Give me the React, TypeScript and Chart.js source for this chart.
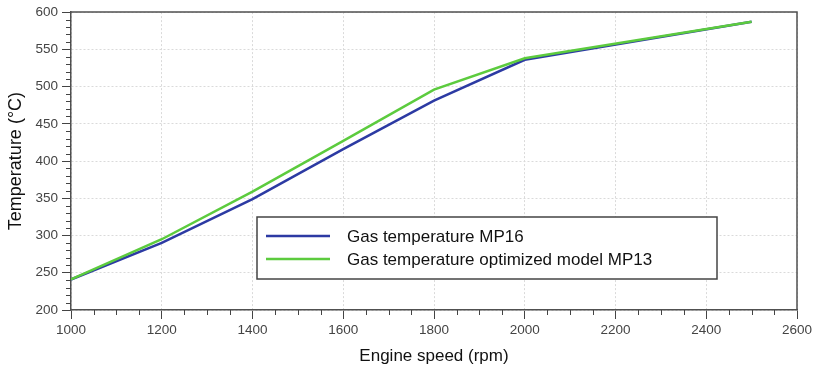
import React, { useEffect, useRef } from "react";
import { Chart, registerables } from "chart.js";

Chart.register(...registerables);

const speeds = [1000, 1200, 1400, 1600, 1800, 2000, 2500];
const tempMP16 = [241, 290, 349, 416, 481, 536, 587];
const tempMP13 = [241, 295, 359, 427, 496, 538, 587];
const seriesLabels = ["Gas temperature MP16", "Gas temperature optimized model MP13"];
const seriesColors = ["#2c3aa3", "#5ccb3e"];
const xTitle = "Engine speed (rpm)";
const yTitle = "Temperature (\u00B0C)";

const FONT = "'Liberation Sans', Arial, sans-serif";

const framePlugin = {
  id: "frameAndMinorTicks",
  afterDraw(chart: any) {
    const { ctx, chartArea } = chart;
    const xs = chart.scales.x;
    const ys = chart.scales.y;
    ctx.save();
    ctx.strokeStyle = "#505050";
    ctx.lineWidth = 1.5;
    ctx.beginPath();
    ctx.moveTo(chartArea.left, chartArea.top);
    ctx.lineTo(chartArea.right, chartArea.top);
    ctx.lineTo(chartArea.right, chartArea.bottom);
    ctx.stroke();
    // minor ticks
    ctx.strokeStyle = "#444";
    ctx.lineWidth = 1;
    ctx.beginPath();
    for (let v = xs.min; v <= xs.max; v += 50) {
      if (v % 200 === 0) continue;
      const px = Math.round(xs.getPixelForValue(v)) + 0.5;
      ctx.moveTo(px, chartArea.bottom);
      ctx.lineTo(px, chartArea.bottom + 5);
    }
    for (let v = ys.min; v <= ys.max; v += 10) {
      if (v % 50 === 0) continue;
      const py = Math.round(ys.getPixelForValue(v)) + 0.5;
      ctx.moveTo(chartArea.left, py);
      ctx.lineTo(chartArea.left - 5, py);
    }
    ctx.stroke();

    // legend box
    const bx = 257, by = 217, bw = 460, bh = 62;
    ctx.fillStyle = "#ffffff";
    ctx.fillRect(bx, by, bw, bh);
    ctx.strokeStyle = "#444";
    ctx.lineWidth = 1.5;
    ctx.strokeRect(bx, by, bw, bh);
    ctx.font = `17px ${FONT}`;
    ctx.textBaseline = "middle";
    ctx.textAlign = "left";
    chart.data.datasets.forEach((ds: any, i: number) => {
      const ly = by + 19 + i * 23;
      ctx.strokeStyle = ds.borderColor;
      ctx.lineWidth = 2.5;
      ctx.beginPath();
      ctx.moveTo(bx + 9, ly);
      ctx.lineTo(bx + 73, ly);
      ctx.stroke();
      ctx.fillStyle = "#111";
      ctx.fillText(ds.label, bx + 90, ly + 1);
    });
    ctx.restore();
  },
};

export default function App() {
  const ref = useRef<HTMLCanvasElement>(null);
  useEffect(() => {
    document.body.style.margin = "0";
    const canvas = ref.current!;
    const chart = new Chart(canvas, {
      type: "line",
      data: {
        datasets: [
          {
            label: seriesLabels[0],
            data: speeds.map((s, i) => ({ x: s, y: tempMP16[i] })),
            borderColor: seriesColors[0],
            backgroundColor: seriesColors[0],
            borderWidth: 2.5,
            pointRadius: 0,
            tension: 0,
            order: 1,
          },
          {
            label: seriesLabels[1],
            data: speeds.map((s, i) => ({ x: s, y: tempMP13[i] })),
            borderColor: seriesColors[1],
            backgroundColor: seriesColors[1],
            borderWidth: 2.5,
            pointRadius: 0,
            tension: 0,
            order: 0,
          },
        ],
      },
      options: {
        responsive: false,
        animation: false,
        layout: { padding: { top: 11, right: 20, left: 0, bottom: 0 } },
        plugins: { legend: { display: false }, tooltip: { enabled: false } },
        scales: {
          x: {
            type: "linear",
            min: 1000,
            max: 2600,
            afterFit: (s: any) => {
              s.height = 63;
            },
            ticks: {
              stepSize: 200,
              autoSkip: false,
              color: "#444",
              font: { family: FONT, size: 13.5 },
              padding: 3,
              maxRotation: 0,
              callback: (v: any) => String(v),
            },
            grid: {
              color: "#dadada",
              lineWidth: 1,
              tickLength: 9,
              tickColor: "#444",
              tickBorderDash: [],
            },
            border: { display: true, color: "#505050", width: 1.5, dash: [2, 2] },
            title: {
              display: true,
              text: xTitle,
              color: "#111",
              font: { family: FONT, size: 17 },
              padding: { top: 0, bottom: 6 },
            },
          },
          y: {
            type: "linear",
            min: 200,
            max: 600,
            afterFit: (s: any) => {
              s.width = 71;
            },
            ticks: {
              stepSize: 50,
              autoSkip: false,
              color: "#444",
              font: { family: FONT, size: 13.5 },
              padding: 4,
              callback: (v: any) => String(v),
            },
            grid: {
              color: "#dadada",
              lineWidth: 1,
              tickLength: 9,
              tickColor: "#444",
              tickBorderDash: [],
            },
            border: { display: true, color: "#505050", width: 1.5, dash: [2, 2] },
            title: {
              display: true,
              text: yTitle,
              color: "#111",
              font: { family: FONT, size: 18 },
              padding: { top: 5, bottom: 0 },
            },
          },
        },
      },
      plugins: [framePlugin],
    } as any);
    return () => chart.destroy();
  }, []);
  return (
    <div style={{ width: 817, height: 373 }}>
      <canvas ref={ref} width={817} height={373} style={{ display: "block" }} />
    </div>
  );
}
